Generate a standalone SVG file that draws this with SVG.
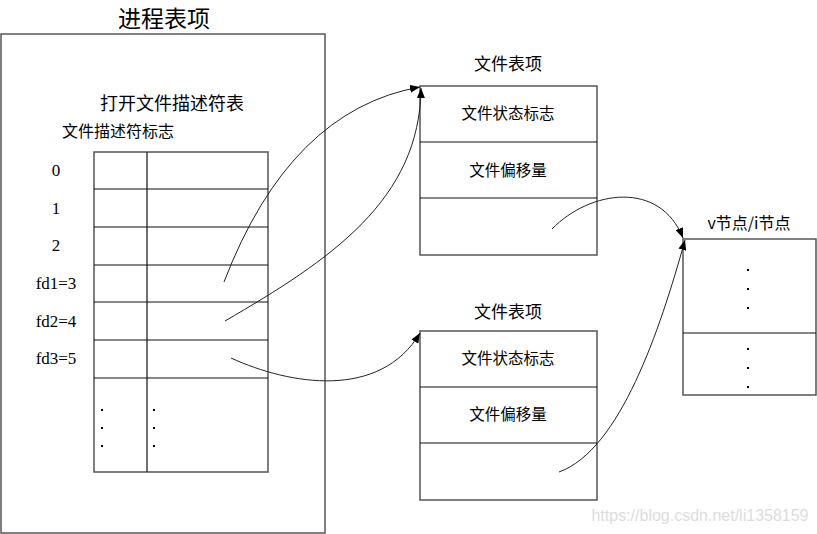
<svg xmlns="http://www.w3.org/2000/svg" width="817" height="534" viewBox="0 0 817 534">
<style>
.box{fill:none;stroke:#555;stroke-width:1.5}
.ln{stroke:#111;stroke-width:1.2;fill:none}
.t{font-family:"Liberation Serif","Noto Sans CJK SC",serif;fill:#000;text-anchor:middle}
.c{font-family:"Noto Sans CJK SC","Liberation Sans",sans-serif;fill:#000;text-anchor:middle}
.n{font-family:"Liberation Serif","Noto Sans CJK SC",serif;font-size:17px;fill:#000;text-anchor:middle}
.dot{fill:#000}
.conn{fill:none;stroke:#222;stroke-width:1}
</style>
<defs>
<marker id="ah" viewBox="0 0 10 8" refX="10" refY="4" markerWidth="10" markerHeight="8" markerUnits="userSpaceOnUse" orient="auto">
<path d="M0,0 L10,4 L0,8 Z" fill="#000"/>
</marker>
</defs>
<rect width="817" height="534" fill="#fff"/>

<g id="process-entry">
<text class="t" x="164" y="27" font-size="23">进程表项</text>
<rect class="box" x="1" y="34" width="324" height="499"/>
<text class="c" x="172" y="110" font-size="18">打开文件描述符表</text>
<text class="c" x="118" y="137" font-size="16">文件描述符标志</text>
</g>

<g id="fd-table">
<rect class="box" x="94" y="152" width="174" height="320"/>
<line class="ln" x1="147" y1="152" x2="147" y2="472"/>
<line class="ln" x1="94" y1="189" x2="268" y2="189"/>
<line class="ln" x1="94" y1="227" x2="268" y2="227"/>
<line class="ln" x1="94" y1="265" x2="268" y2="265"/>
<line class="ln" x1="94" y1="302" x2="268" y2="302"/>
<line class="ln" x1="94" y1="340" x2="268" y2="340"/>
<line class="ln" x1="94" y1="378" x2="268" y2="378"/>
<text class="n" x="56" y="176">0</text>
<text class="n" x="56" y="214">1</text>
<text class="n" x="56" y="251">2</text>
<text class="n" x="56" y="289">fd1=3</text>
<text class="n" x="56" y="327">fd2=4</text>
<text class="n" x="56" y="364">fd3=5</text>
<rect class="dot" x="101" y="409" width="2" height="2"/>
<rect class="dot" x="101" y="427" width="2" height="2"/>
<rect class="dot" x="101" y="445" width="2" height="2"/>
<rect class="dot" x="153" y="409" width="2" height="2"/>
<rect class="dot" x="153" y="427" width="2" height="2"/>
<rect class="dot" x="153" y="445" width="2" height="2"/>
</g>

<g id="file-entry-1">
<text class="c" x="508" y="70" font-size="17">文件表项</text>
<rect class="box" x="420" y="86" width="177" height="169"/>
<line class="ln" x1="420" y1="142" x2="597" y2="142"/>
<line class="ln" x1="420" y1="198" x2="597" y2="198"/>
<text class="c" x="508" y="119" font-size="15.5">文件状态标志</text>
<text class="c" x="508" y="176" font-size="15.5">文件偏移量</text>
</g>

<g id="file-entry-2">
<text class="c" x="508" y="318" font-size="17">文件表项</text>
<rect class="box" x="420" y="331" width="177" height="169"/>
<line class="ln" x1="420" y1="387" x2="597" y2="387"/>
<line class="ln" x1="420" y1="443" x2="597" y2="443"/>
<text class="c" x="508" y="364" font-size="15.5">文件状态标志</text>
<text class="c" x="508" y="420" font-size="15.5">文件偏移量</text>
</g>

<g id="vnode">
<text class="c" x="749" y="229" font-size="16">v节点/i节点</text>
<rect class="box" x="683" y="239" width="133" height="156"/>
<line class="ln" x1="683" y1="333" x2="816" y2="333"/>
<rect class="dot" x="747" y="269" width="2" height="2"/>
<rect class="dot" x="747" y="288" width="2" height="2"/>
<rect class="dot" x="747" y="307" width="2" height="2"/>
<rect class="dot" x="747" y="348" width="2" height="2"/>
<rect class="dot" x="747" y="367" width="2" height="2"/>
<rect class="dot" x="747" y="386" width="2" height="2"/>
</g>

<g id="connectors">
<path class="conn" d="M224,282 Q290,110 420,87" marker-end="url(#ah)"/>
<path class="conn" d="M225,321 C330,260 420,200 421,88" marker-end="url(#ah)"/>
<path class="conn" d="M231,358 C290,385 380,400 420,333" marker-end="url(#ah)"/>
<path class="conn" d="M552,229 C590,190 660,180 683,238" marker-end="url(#ah)"/>
<path class="conn" d="M559,472 C620,450 660,330 685,240" marker-end="url(#ah)"/>
</g>

<text x="700" y="521" font-family="Liberation Sans, sans-serif" font-size="16" fill="#dcdcdc" text-anchor="middle">https://blog.csdn.net/li1358159</text>
</svg>
